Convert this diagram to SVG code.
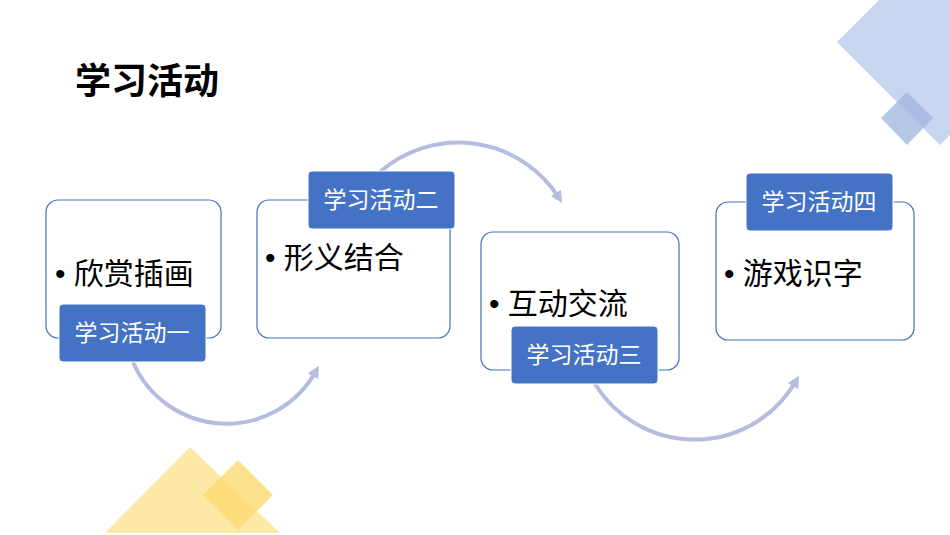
<svg xmlns="http://www.w3.org/2000/svg" width="950" height="535" viewBox="0 0 950 535">
<defs>
<style>
.box{fill:#fff;stroke:#4472c4;stroke-width:1.2}
.lab{fill:#4472c4;stroke:#fff;stroke-width:1}
.lt{fill:#fff;font-family:"Liberation Sans","Noto Sans CJK SC",sans-serif;font-size:23px;text-anchor:middle}
.it{fill:#000;font-family:"Liberation Sans","Noto Sans CJK SC",sans-serif;font-size:30px}
.arc{fill:none;stroke:#b4bde0;stroke-width:4;marker-end:url(#ah)}
</style>
<marker id="ah" viewBox="0 0 10 10" refX="5" refY="5" markerWidth="3" markerHeight="3" orient="auto"><path d="M0,0L10,5L0,10z" fill="#b4bde0"/></marker>
</defs>
<rect width="950" height="535" fill="#fff"/>
<g id="deco">
<polygon points="837,42 940,-61 1043,42 940,145" fill="#c7d5ee"/>
<polygon points="881,118 907,92 933,118 907,145" fill="#9fb4de" fill-opacity="0.75"/>
<polygon points="105,533 190,447 280,533" fill="#fde9a6"/>
<polygon points="203,495 238,460 273,495 238,530" fill="#fbd86a" fill-opacity="0.75"/>
</g>
<text x="75" y="94" font-family="'Liberation Sans','Noto Sans CJK SC',sans-serif" font-size="36" font-weight="bold">学习活动</text>
<g id="connectors">
<path class="arc" d="M133,362 A102,102 0 0 0 316,371"/>
<path class="arc" d="M380,172 A119,119 0 0 1 559,198"/>
<path class="arc" d="M595,384 A117,117 0 0 0 796,381"/>
</g>
<g id="n1"><rect class="box" x="46" y="200" width="175" height="138" rx="12"/>
<text class="it" x="55" y="284">• 欣赏插画</text>
<rect class="lab" x="59" y="304" width="147" height="58" rx="4"/><text class="lt" x="132" y="341">学习活动一</text></g>
<g id="n2"><rect class="box" x="257" y="200" width="193" height="138" rx="12"/>
<text class="it" x="265" y="268">• 形义结合</text>
<rect class="lab" x="308" y="171" width="147" height="58" rx="4"/><text class="lt" x="381" y="208">学习活动二</text></g>
<g id="n3"><rect class="box" x="481" y="232" width="198" height="138" rx="12"/>
<text class="it" x="489" y="314">• 互动交流</text>
<rect class="lab" x="511" y="326" width="147" height="58" rx="4"/><text class="lt" x="584" y="363">学习活动三</text></g>
<g id="n4"><rect class="box" x="716" y="202" width="198" height="138" rx="12"/>
<text class="it" x="724" y="284">• 游戏识字</text>
<rect class="lab" x="746" y="173" width="147" height="58" rx="4"/><text class="lt" x="819" y="210">学习活动四</text></g>
</svg>
